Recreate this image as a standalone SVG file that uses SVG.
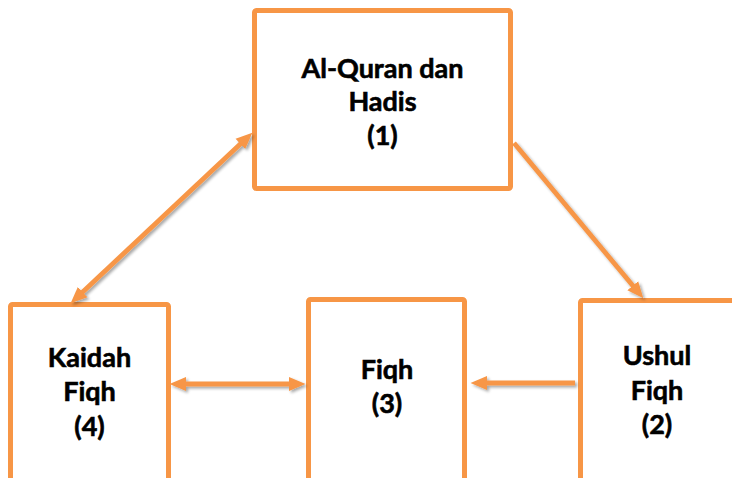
<svg xmlns="http://www.w3.org/2000/svg" width="732" height="478" viewBox="0 0 732 478">
<style>
.box{fill:#ffffff;stroke:#F79646;stroke-width:5;}
.lbl{font-family:Lato,"Open Sans","Liberation Sans",sans-serif;font-weight:700;font-size:27px;fill:#000000;stroke:#000000;stroke-width:0.6;text-anchor:middle;}
.con{stroke:#F79646;stroke-width:4.8;fill:none;}
</style>
<defs>
<marker id="ah" markerUnits="userSpaceOnUse" markerWidth="17" markerHeight="15" refX="8" refY="7.5" orient="auto-start-reverse" viewBox="0 0 17 15">
<path d="M0,0.5 L16.5,7.5 L0,14.5 z" fill="#F79646"/>
</marker>
<filter id="sh" x="-20%" y="-20%" width="140%" height="140%">
<feGaussianBlur in="SourceAlpha" stdDeviation="1.6"/>
<feOffset dx="1.5" dy="2" result="b"/>
<feComponentTransfer><feFuncA type="linear" slope="0.35"/></feComponentTransfer>
<feMerge><feMergeNode/><feMergeNode in="SourceGraphic"/></feMerge>
</filter>
</defs>
<rect width="732" height="478" fill="#ffffff"/>
<g id="node-quran">
<rect class="box" x="254.5" y="10.5" width="256" height="178" rx="2"/>
<text class="lbl" x="382.5" y="78">Al-Quran dan</text>
<text class="lbl" x="382.5" y="111">Hadis</text>
<text class="lbl" x="382.5" y="145">(1)</text>
</g>
<g id="node-kaidah">
<rect class="box" x="10.5" y="304.5" width="158" height="200" rx="2"/>
<text class="lbl" x="89.5" y="367">Kaidah</text>
<text class="lbl" x="89.5" y="401">Fiqh</text>
<text class="lbl" x="89.5" y="436">(4)</text>
</g>
<g id="node-fiqh">
<rect class="box" x="308.5" y="299.5" width="156" height="200" rx="2"/>
<text class="lbl" x="387" y="379">Fiqh</text>
<text class="lbl" x="387" y="413">(3)</text>
</g>
<g id="node-ushul">
<rect class="box" x="580.5" y="300.5" width="158" height="200" rx="2"/>
<text class="lbl" x="657" y="365">Ushul</text>
<text class="lbl" x="657" y="400">Fiqh</text>
<text class="lbl" x="657" y="434">(2)</text>
</g>
<g id="connectors" filter="url(#sh)">
<line class="con" x1="514" y1="143" x2="637.9" y2="291.8" marker-end="url(#ah)"/>
<line class="con" x1="575" y1="383" x2="479" y2="383" marker-end="url(#ah)"/>
<line class="con" x1="178" y1="384" x2="297" y2="384" marker-start="url(#ah)" marker-end="url(#ah)"/>
<line class="con" x1="76.8" y1="297.5" x2="246.2" y2="138.5" marker-start="url(#ah)" marker-end="url(#ah)"/>
</g>
</svg>
